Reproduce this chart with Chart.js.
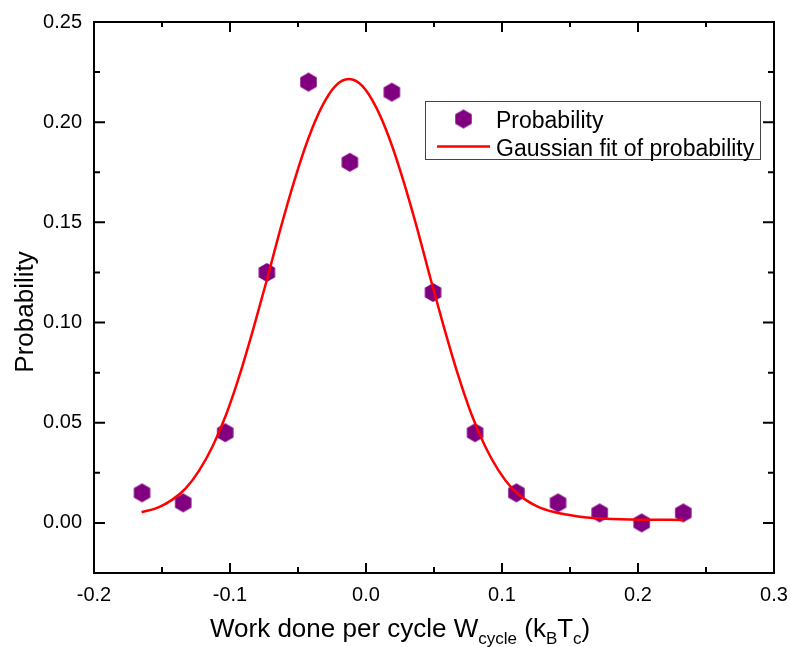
<!DOCTYPE html>
<html>
<head>
<meta charset="utf-8">
<title>Probability vs work per cycle</title>
<script src="https://cdn.jsdelivr.net/npm/chart.js@4/dist/chart.umd.min.js"></script>
<style>
  html, body { margin: 0; padding: 0; background: #fff; }
  canvas { display: block; }
</style>
</head>
<body>
<canvas id="chart" width="791" height="647"></canvas>
<script>
// measured probability per bin of work done per cycle
const workBins = [-0.1647, -0.1344, -0.1035, -0.0729, -0.0423, -0.0119, 0.0190,
                  0.0493, 0.0802, 0.1106, 0.1412, 0.1718, 0.2027, 0.2333];
const probability = [0.015, 0.010, 0.045, 0.125, 0.220, 0.180, 0.215,
                     0.115, 0.045, 0.015, 0.010, 0.005, 0.000, 0.005];

// gaussian fit curve, sampled
const fitX = [-0.165, -0.1526, -0.1426, -0.1326, -0.1226, -0.1126, -0.1026, -0.0926,
              -0.0826, -0.0726, -0.0626, -0.0526, -0.0426, -0.0326, -0.0226, -0.0126,
              -0.0026, 0.0074, 0.0174, 0.0274, 0.0374, 0.0474, 0.0574, 0.0674,
              0.0774, 0.0874, 0.0974, 0.1074, 0.1174, 0.1274, 0.1374, 0.1474,
              0.1574, 0.1674, 0.1874, 0.2074, 0.2330];
const fitY = [0.0053, 0.0078, 0.0115, 0.0172, 0.0262, 0.0385, 0.0545, 0.0745,
              0.0975, 0.1220, 0.1475, 0.1710, 0.1915, 0.2075, 0.2180, 0.2215,
              0.2180, 0.2075, 0.1915, 0.1710, 0.1475, 0.1220, 0.0975, 0.0745,
              0.0545, 0.0385, 0.0262, 0.0172, 0.0115, 0.0078, 0.0056, 0.0042,
              0.0031, 0.0024, 0.0018, 0.0016, 0.0015];

const xTicks = [-0.2, -0.1, 0.0, 0.1, 0.2, 0.3];
const yTicks = [0.00, 0.05, 0.10, 0.15, 0.20, 0.25];

const FONT = '"Liberation Sans", Arial, sans-serif';
const PURPLE = '#800080';

// hexagon marker (pointy top)
function hexagon(r, color) {
  const c = document.createElement('canvas');
  const s = Math.ceil(r * 2 + 2);
  c.width = s; c.height = s;
  const g = c.getContext('2d');
  g.fillStyle = color;
  g.beginPath();
  for (let i = 0; i < 6; i++) {
    const a = -Math.PI / 2 + i * Math.PI / 3;
    const px = s / 2 + r * Math.cos(a), py = s / 2 + r * Math.sin(a);
    i ? g.lineTo(px, py) : g.moveTo(px, py);
  }
  g.closePath();
  g.fill();
  return c;
}
const hexMark = hexagon(9.5, PURPLE);

// frame + inward ticks on all four sides
const framePlugin = {
  id: 'frame',
  afterDatasetsDraw(chart) {
    const { ctx, chartArea: a, scales } = chart;
    const xs = scales.x, ys = scales.y;
    ctx.save();
    ctx.strokeStyle = '#000';
    ctx.lineWidth = 2;
    ctx.strokeRect(a.left, a.top, a.right - a.left, a.bottom - a.top);
    ctx.beginPath();
    for (let i = 0; i < xTicks.length; i++) {
      const px = xs.getPixelForValue(xTicks[i]);
      ctx.moveTo(px, a.bottom); ctx.lineTo(px, a.bottom - 10);
      ctx.moveTo(px, a.top); ctx.lineTo(px, a.top + 10);
      if (i < xTicks.length - 1) {
        const m = xs.getPixelForValue((xTicks[i] + xTicks[i + 1]) / 2);
        ctx.moveTo(m, a.bottom); ctx.lineTo(m, a.bottom - 6);
        ctx.moveTo(m, a.top); ctx.lineTo(m, a.top + 5);
      }
    }
    for (let i = 0; i < yTicks.length; i++) {
      const py = ys.getPixelForValue(yTicks[i]);
      ctx.moveTo(a.left, py); ctx.lineTo(a.left + 11, py);
      ctx.moveTo(a.right, py); ctx.lineTo(a.right - 11, py);
      if (i < yTicks.length - 1) {
        const m = ys.getPixelForValue((yTicks[i] + yTicks[i + 1]) / 2);
        ctx.moveTo(a.left, m); ctx.lineTo(a.left + 6, m);
        ctx.moveTo(a.right, m); ctx.lineTo(a.right - 6, m);
      }
    }
    ctx.stroke();
    ctx.restore();
  }
};

// axis titles (x title has subscripts)
const titlePlugin = {
  id: 'titles',
  afterDraw(chart) {
    const ctx = chart.ctx;
    ctx.save();
    ctx.fillStyle = '#000';
    ctx.textBaseline = 'alphabetic';

    ctx.save();
    ctx.translate(33, 312);
    ctx.rotate(-Math.PI / 2);
    ctx.textAlign = 'center';
    ctx.font = '26px ' + FONT;
    ctx.fillText('Probability', 0, 0);
    ctx.restore();

    const parts = [
      ['Work done per cycle W', false],
      ['cycle', true],
      [' (k', false],
      ['B', true],
      ['T', false],
      ['c', true],
      [')', false]
    ];
    let x = 210;
    const base = 637;
    ctx.textAlign = 'left';
    for (const [t, sub] of parts) {
      ctx.font = (sub ? '17px ' : '26px ') + FONT;
      ctx.fillText(t, x, sub ? base + 7 : base);
      x += ctx.measureText(t).width;
    }
    ctx.restore();
  }
};

// legend box inside the plot
const legendPlugin = {
  id: 'boxLegend',
  afterDraw(chart) {
    const ctx = chart.ctx;
    const ds = chart.data.datasets;
    ctx.save();
    ctx.fillStyle = '#fff';
    ctx.fillRect(425, 101.5, 335, 58);
    ctx.strokeStyle = '#444';
    ctx.lineWidth = 1;
    ctx.strokeRect(425.5, 101.5, 335, 58);

    ctx.drawImage(hexMark, 463.5 - hexMark.width / 2, 119 - hexMark.height / 2);
    ctx.strokeStyle = ds[0].borderColor;
    ctx.lineWidth = ds[0].borderWidth;
    ctx.beginPath();
    ctx.moveTo(437, 146.5); ctx.lineTo(490, 146.5);
    ctx.stroke();

    ctx.fillStyle = '#000';
    ctx.font = '23px ' + FONT;
    ctx.textBaseline = 'alphabetic';
    ctx.fillText(ds[1].label, 496, 127.5);
    ctx.fillText(ds[0].label, 496, 155.5);
    ctx.restore();
  }
};

new Chart(document.getElementById('chart'), {
  type: 'scatter',
  data: {
    datasets: [
      {
        label: 'Gaussian fit of probability',
        data: fitX.map((x, i) => ({ x, y: fitY[i] })),
        showLine: true,
        borderColor: '#ff0000',
        borderWidth: 2.5,
        pointRadius: 0,
        cubicInterpolationMode: 'monotone',
        order: 0
      },
      {
        label: 'Probability',
        data: workBins.map((x, i) => ({ x, y: probability[i] })),
        pointStyle: hexMark,
        backgroundColor: PURPLE,
        order: 1
      }
    ]
  },
  options: {
    responsive: false,
    animation: false,
    devicePixelRatio: 1,
    layout: { padding: { top: 22, right: 17, bottom: 0, left: 0 } },
    plugins: { legend: { display: false }, tooltip: { enabled: false } },
    scales: {
      x: {
        min: -0.2, max: 0.3,
        afterBuildTicks: s => { s.ticks = xTicks.map(v => ({ value: v })); },
        afterFit: s => { s.height = 74; s.paddingLeft = 0; s.paddingRight = 0; },
        grid: { display: false, drawTicks: false },
        border: { display: false },
        ticks: {
          color: '#000', padding: 10,
          font: { family: FONT, size: 20 },
          callback: v => v.toFixed(1)
        }
      },
      y: {
        min: -0.025, max: 0.25,
        afterBuildTicks: s => { s.ticks = yTicks.map(v => ({ value: v })); },
        afterFit: s => { s.width = 94; s.paddingTop = 0; s.paddingBottom = 0; },
        grid: { display: false, drawTicks: false },
        border: { display: false },
        ticks: {
          color: '#000', padding: 12,
          font: { family: FONT, size: 20 },
          callback: v => v.toFixed(2)
        }
      }
    }
  },
  plugins: [framePlugin, titlePlugin, legendPlugin]
});
</script>
</body>
</html>
